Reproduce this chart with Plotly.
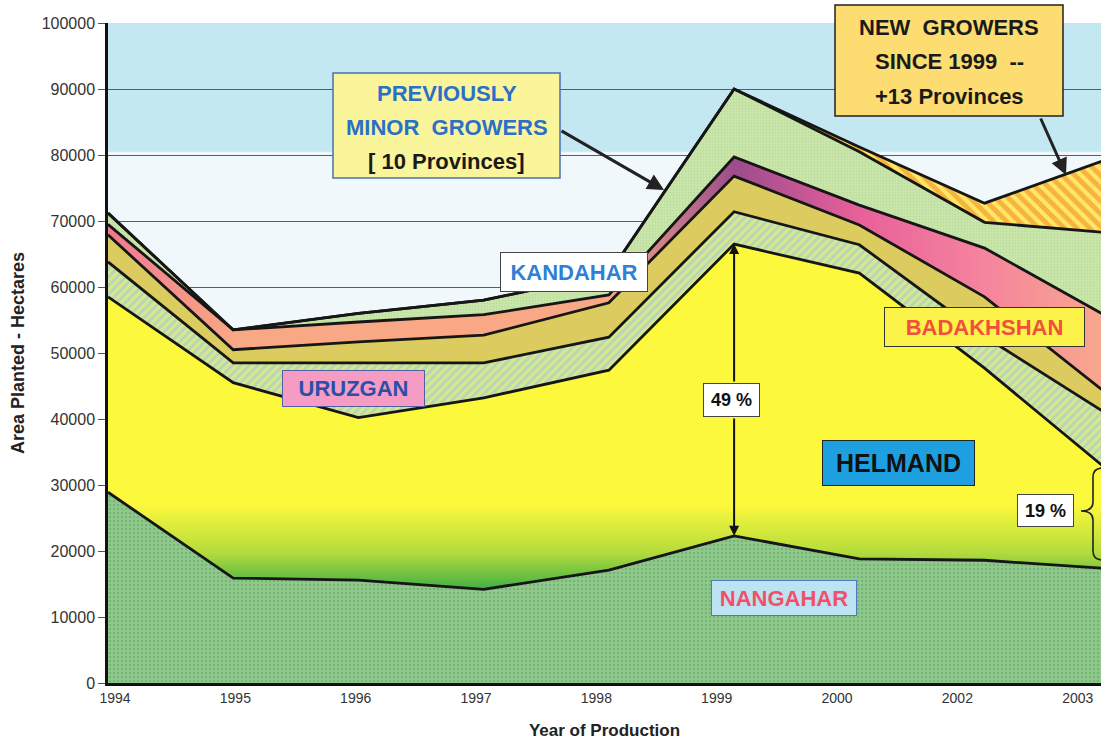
import plotly.graph_objects as go

# area planted per province group, hectares
years = ["1994", "1995", "1996", "1997", "1998", "1999", "2000", "2002", "2003"]
nangahar = [28900, 15900, 15600, 14200, 17100, 22300, 18800, 18600, 17300]
helmand = [29600, 29600, 24600, 29000, 30300, 44200, 43300, 29100, 14700]
uruzgan = [5300, 3000, 8300, 5300, 5000, 4900, 4300, 4800, 8500]
kandahar = [4100, 2000, 3200, 4200, 5200, 5400, 3000, 6000, 3000]
badakhshan = [1600, 3000, 3000, 3100, 1200, 2900, 3000, 7400, 11800]
minor_growers = [1700, 0, 1300, 2200, 3200, 10300, 8100, 3900, 12900]
new_growers = [0, 0, 0, 0, 0, 0, 700, 2900, 11300]

FONT = "Liberation Sans, Arial, sans-serif"
W, H = 1101, 744
L, T, B = 108, 23, 61
PW, PH = W - L, H - T - B


def paper(xp, yp):
    # pixel position on the page -> paper coordinates
    return (xp - L) / PW, (H - B - yp) / PH


xs = list(range(len(years)))
line = dict(color="#161616", width=2.8)

layers = [
    ("Nangahar", nangahar, dict(fillpattern=dict(shape=".", bgcolor="#8fc98c", fgcolor="#5e9e5e",
                                                  size=4, solidity=0.3))),
    ("Helmand", helmand, dict(fillgradient=dict(type="vertical", start=14000, stop=27000,
                                                 colorscale=[[0, "#3fae45"], [0.45, "#b5dc3c"], [1, "#fcf83c"]]))),
    ("Uruzgan", uruzgan, dict(fillpattern=dict(shape="/", bgcolor="#d8e98a", fgcolor="#98c2ea",
                                                size=6, solidity=0.5))),
    ("Kandahar", kandahar, dict(fillcolor="#dccb5e")),
    ("Badakhshan", badakhshan, dict(fillgradient=dict(type="horizontal", start=0, stop=8,
                                                       colorscale=[[0, "#f07890"], [0.125, "#f8a884"],
                                                                   [0.5, "#f8a884"], [0.625, "#9c4c8c"],
                                                                   [0.75, "#e8609a"], [0.875, "#f5849e"],
                                                                   [1, "#f8aa8c"]]))),
    ("Previously minor growers", minor_growers, dict(fillpattern=dict(shape=".", bgcolor="#cae6ab",
                                                                      fgcolor="#aad28e", size=3,
                                                                      solidity=0.3))),
    ("New growers", new_growers, dict(fillpattern=dict(shape="\\", bgcolor="#ffe866", fgcolor="#f07e18",
                                                       size=9, solidity=0.55))),
]

fig = go.Figure()
for name, vals, style in layers:
    fig.add_trace(go.Scatter(x=xs, y=vals, name=name, stackgroup="area", mode="lines",
                             line=line, showlegend=False, **style))

# label boxes: text, box in pixels (x0, x1, y0, y1), text colour, background, border, size
boxes = [
    ("KANDAHAR", (500, 648, 252, 292), "#2f7fd6", "#ffffff", "#444444", 22),
    ("URUZGAN", (282, 425, 370, 407), "#2b4ea8", "#f59cc4", "#5060a0", 22),
    ("BADAKHSHAN", (884, 1085, 307, 347), "#f0503c", "#fcf34a", "#333333", 22),
    ("HELMAND", (822, 975, 440, 486), "#111111", "#1ea0e0", "#222222", 25),
    ("NANGAHAR", (711, 857, 580, 616), "#f2506a", "#bde2f2", "#4a7ac0", 22),
    ("49 %", (703, 760, 383, 417), "#111111", "#ffffff", "#444444", 18),
    ("19 %", (1017, 1074, 494, 527), "#111111", "#ffffff", "#444444", 18),
]

annotations = []
for text, (x0, x1, y0, y1), color, bg, border, size in boxes:
    x, y = paper((x0 + x1) / 2, (y0 + y1) / 2)
    annotations.append(dict(text=f"<b>{text}</b>", x=x, y=y, xref="paper", yref="paper",
                            showarrow=False, xanchor="center", yanchor="middle",
                            width=x1 - x0 - 2, height=y1 - y0 - 2, borderpad=0,
                            bgcolor=bg, bordercolor=border, borderwidth=1,
                            font=dict(family=FONT, size=size, color=color)))

# multi-line call-out boxes
shapes = []
callouts = [
    ((333, 560, 73, 178), "#faf49a", "#4a6fb0",
     [("PREVIOUSLY", 93, "#2a70c8"), ("MINOR\u00a0 GROWERS", 128, "#2a70c8"),
      ("[ 10 Provinces]", 162, "#1a1a1a")]),
    ((835, 1063, 5, 116), "#fddc72", "#222222",
     [("NEW\u00a0 GROWERS", 27, "#1a1a1a"), ("SINCE 1999\u00a0 --", 61, "#1a1a1a"),
      ("+13 Provinces", 96, "#1a1a1a")]),
]
for (x0, x1, y0, y1), fill, border, rows in callouts:
    px0, py0 = paper(x0, y1)
    px1, py1 = paper(x1, y0)
    shapes.append(dict(type="rect", xref="paper", yref="paper", x0=px0, x1=px1, y0=py0, y1=py1,
                       fillcolor=fill, line=dict(color=border, width=1.5), layer="above"))
    for text, yp, color in rows:
        x, y = paper((x0 + x1) / 2, yp)
        annotations.append(dict(text=f"<b>{text}</b>", x=x, y=y, xref="paper", yref="paper",
                                showarrow=False, xanchor="center", yanchor="middle",
                                font=dict(family=FONT, size=22, color=color)))

# arrows from the call-outs to the layers
for (tx, ty), (sx, sy) in [((664, 190), (560, 130)), ((1066, 175), (1040, 117))]:
    x, y = paper(tx, ty)
    annotations.append(dict(text="", x=x, y=y, xref="paper", yref="paper", showarrow=True,
                            ax=sx - tx, ay=sy - ty, arrowhead=2, arrowsize=1.1, arrowwidth=3,
                            arrowcolor="#222222"))

# 49 % double arrow at 1999 (Helmand share)
i99 = years.index("1999")
helmand_top = nangahar[i99] + helmand[i99]
zero_px = H - B
annotations.append(dict(text="", x=i99, y=helmand_top, xref="x", yref="y", showarrow=True,
                        ax=0, ay=383 - (zero_px - helmand_top / 100000 * PH), arrowhead=2,
                        arrowsize=1, arrowwidth=2, arrowcolor="#111111"))
annotations.append(dict(text="", x=i99, y=nangahar[i99], xref="x", yref="y", showarrow=True,
                        ax=0, ay=417 - (zero_px - nangahar[i99] / 100000 * PH), arrowhead=2,
                        arrowsize=1, arrowwidth=2, arrowcolor="#111111"))


# curly brace for the 19 % share
def brace(x_end, x_mid, x_tip, y_top, y_mid, y_bot, r):
    p = lambda a, b: "{:.5f},{:.5f}".format(*paper(a, b))
    return (f"M {p(x_end, y_top)} Q {p(x_mid, y_top)} {p(x_mid, y_top + r)} "
            f"L {p(x_mid, y_mid - r)} Q {p(x_mid, y_mid)} {p(x_tip, y_mid)} "
            f"Q {p(x_mid, y_mid)} {p(x_mid, y_mid + r)} L {p(x_mid, y_bot - r)} "
            f"Q {p(x_mid, y_bot)} {p(x_end, y_bot)}")


shapes.append(dict(type="path", xref="paper", yref="paper", path=brace(1103, 1093, 1081, 468, 511, 560, 9),
                   line=dict(color="#222222", width=1.6), layer="above"))

# sky band behind the top of the chart
shapes.append(dict(type="rect", xref="paper", yref="y", x0=0, x1=1, y0=80500, y1=100000,
                   fillcolor="#c3e8f2", line=dict(width=0), layer="below"))

fig.update_layout(
    width=W, height=H,
    margin=dict(l=L, r=0, t=T, b=B),
    paper_bgcolor="white",
    plot_bgcolor="#f1f8fb",
    font=dict(family=FONT, color="#222222"),
    shapes=shapes,
    annotations=annotations,
    xaxis=dict(
        range=[0, 7.93],
        tickvals=[0.056 + 0.961 * i for i in xs],
        ticktext=years,
        showgrid=False, zeroline=False,
        showline=True, linecolor="#111111", linewidth=3,
        tickfont=dict(size=14, color="#333333"),
        title=dict(text="<b>Year of Production</b>", font=dict(size=17, color="#222222"), standoff=20),
    ),
    yaxis=dict(
        range=[0, 100000],
        tickvals=list(range(0, 100001, 10000)),
        tickformat="d",
        showgrid=True, gridcolor="#5c5c5c", gridwidth=1,
        zeroline=False,
        showline=True, linecolor="#111111", linewidth=2.5,
        ticks="outside", ticklen=7, tickcolor="#555555",
        tickfont=dict(size=16, color="#333333"),
        title=dict(text="<b>Area Planted - Hectares</b>", font=dict(size=18, color="#222222"), standoff=13),
    ),
)

# the page body keeps its default 8px margin otherwise
fig.write_html("out.html", config={"displayModeBar": False},
               post_script="document.body.style.margin='0';document.body.style.overflow='hidden';")
